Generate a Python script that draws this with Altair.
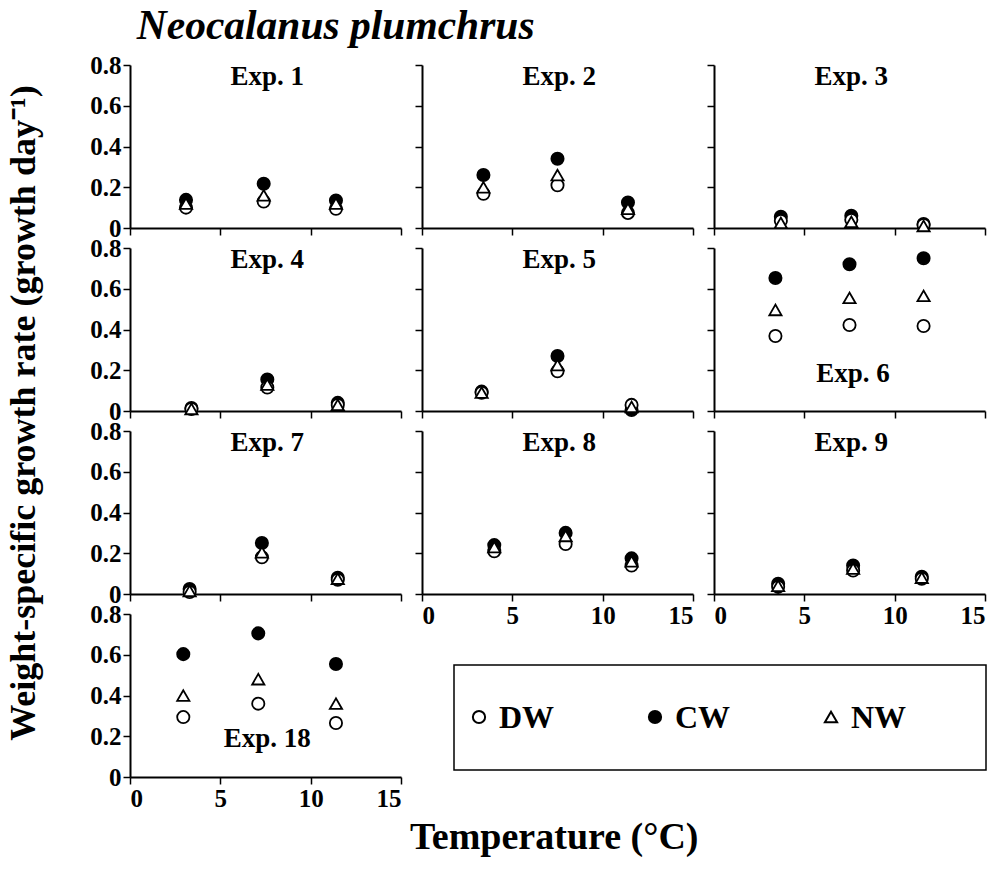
import altair as alt
import pandas as pd

# ---------------- data ----------------
exp_names = ["Exp. 1", "Exp. 2", "Exp. 3", "Exp. 4", "Exp. 5", "Exp. 6",
             "Exp. 7", "Exp. 8", "Exp. 9", "Exp. 18"]

temperature = [
    [3.1, 7.4, 11.4], [3.4, 7.5, 11.4], [3.7, 7.6, 11.6],
    [3.4, 7.6, 11.5], [3.3, 7.5, 11.6], [3.4, 7.5, 11.6],
    [3.3, 7.3, 11.5], [4.0, 7.95, 11.6], [3.55, 7.7, 11.5],
    [2.95, 7.1, 11.4],
]
dw = [
    [0.100, 0.130, 0.094], [0.168, 0.210, 0.074], [0.035, 0.040, 0.015],
    [0.010, 0.115, 0.030], [0.090, 0.195, 0.030], [0.368, 0.422, 0.417],
    [0.010, 0.180, 0.070], [0.210, 0.245, 0.140], [0.035, 0.115, 0.075],
    [0.294, 0.360, 0.265],
]
cw = [
    [0.138, 0.217, 0.135], [0.260, 0.340, 0.125], [0.055, 0.060, 0.020],
    [0.015, 0.155, 0.040], [0.095, 0.270, 0.005], [0.653, 0.720, 0.750],
    [0.025, 0.250, 0.080], [0.240, 0.300, 0.175], [0.050, 0.140, 0.085],
    [0.603, 0.705, 0.555],
]
nw = [
    [0.120, 0.160, 0.120], [0.200, 0.260, 0.094], [0.025, 0.030, 0.010],
    [0.010, 0.130, 0.030], [0.090, 0.225, 0.020], [0.496, 0.555, 0.565],
    [0.015, 0.205, 0.075], [0.230, 0.285, 0.160], [0.040, 0.125, 0.080],
    [0.400, 0.480, 0.360],
]
series_names = ["DW", "CW", "NW"]

# annotation anchor (in data units) for each "Exp." label
label_t = [7.6, 7.6, 7.6, 7.6, 7.6, 7.7, 7.6, 7.6, 7.6, 7.6]
label_v = [0.70, 0.70, 0.70, 0.70, 0.70, 0.14, 0.70, 0.70, 0.70, 0.145]

x_ticks = [0, 5, 10, 15]
y_ticks = [0, 0.2, 0.4, 0.6, 0.8]

# ---------------- style ----------------
FONT = "Liberation Serif"
W, H = 271, 163

shape_scale = alt.Scale(domain=series_names, range=["circle", "circle", "triangle-up"])
fill_scale = alt.Scale(domain=series_names, range=["white", "black", "white"])
size_scale = alt.Scale(domain=series_names, range=[150, 150, 175])


def panel(i, show_x, show_y):
    rows = []
    for s, vals in (("CW", cw[i]), ("DW", dw[i]), ("NW", nw[i])):
        for t, v in zip(temperature[i], vals):
            rows.append({"t": t, "v": v, "series": s})
    df = pd.DataFrame(rows)

    xax = alt.Axis(values=x_ticks, labels=show_x, title=None, labelFlush=True)
    yax = alt.Axis(values=y_ticks, labels=show_y, title=None, labelFlush=False,
                   labelExpr="datum.value == 0 ? '0' : format(datum.value, '.1f')")
    xenc = alt.X("t:Q", scale=alt.Scale(domain=[0, 15], nice=False, zero=False), axis=xax)
    yenc = alt.Y("v:Q", scale=alt.Scale(domain=[0, 0.8], nice=False), axis=yax)

    pts = alt.Chart(df).mark_point(filled=True, opacity=1, stroke="black",
                                   strokeWidth=1.8).encode(
        x=xenc, y=yenc,
        shape=alt.Shape("series:N", scale=shape_scale, legend=None),
        fill=alt.Fill("series:N", scale=fill_scale, legend=None),
        size=alt.Size("series:N", scale=size_scale, legend=None),
    )
    lab_df = pd.DataFrame({"t": [label_t[i]], "v": [label_v[i]], "lab": [exp_names[i]]})
    lab = alt.Chart(lab_df).mark_text(font=FONT, fontSize=27, fontWeight="bold",
                                      baseline="alphabetic", color="black").encode(
        x=alt.X("t:Q"), y=alt.Y("v:Q"), text="lab:N")
    return alt.layer(pts, lab).properties(width=W, height=H)


panels = [
    panel(0, False, True), panel(1, False, False), panel(2, False, False),
    panel(3, False, True), panel(4, False, False), panel(5, False, False),
    panel(6, False, True), panel(7, True, False), panel(8, True, False),
    panel(9, True, True),
]

# legend box (occupies the space of columns 2-3 in the last row)
leg_df = pd.DataFrame({"series": series_names})
leg_x = alt.X("series:N", sort=series_names,
              scale=alt.Scale(type="point", padding=0, range=[57, 409]), axis=None)
leg_box = alt.Chart(pd.DataFrame({"b": [0]})).mark_rect(
    fill=None, stroke="black", strokeWidth=1.5).encode(
    x=alt.value(32), x2=alt.value(564), y=alt.value(51), y2=alt.value(156))
leg_sym = alt.Chart(leg_df).mark_point(filled=True, opacity=1, stroke="black",
                                       strokeWidth=2).encode(
    x=leg_x, y=alt.value(103),
    shape=alt.Shape("series:N", scale=shape_scale, legend=None),
    fill=alt.Fill("series:N", scale=fill_scale, legend=None),
    size=alt.Size("series:N", scale=alt.Scale(domain=series_names, range=[200, 200, 220]),
                  legend=None),
)
leg_txt = alt.Chart(leg_df).mark_text(align="left", dx=20, font=FONT, fontSize=32,
                                      fontWeight="bold", color="black").encode(
    x=leg_x, y=alt.value(104), text="series:N")
legend_cell = alt.layer(leg_box, leg_sym, leg_txt).properties(width=W, height=H)

grid = alt.concat(*panels, legend_cell, columns=3, bounds="flush",
                  spacing=alt.RowColnumber(row=20, column=21)).properties(
    title=alt.TitleParams("Temperature (°C)", orient="bottom", anchor="middle",
                          font=FONT, fontSize=38, fontWeight="bold", color="black",
                          offset=8, dx=16))

mid = alt.vconcat(grid).properties(
    title=alt.TitleParams("Weight-specific growth rate (growth day\u207b\u00b9)",
                          orient="left", anchor="middle", font=FONT, fontSize=36,
                          fontWeight="bold", color="black", offset=47, dx=42))

chart = alt.vconcat(mid).properties(
    title=alt.TitleParams("Neocalanus plumchrus", anchor="start", font=FONT,
                          fontSize=41.5, fontWeight="bold", fontStyle="italic",
                          color="black", dx=131, offset=6),
    padding={"left": 5, "top": 5, "right": 5, "bottom": 5},
).configure_view(stroke=None).configure_axis(
    domainColor="black", domainWidth=2, tickColor="black", tickWidth=1.5,
    tickSize=7, labelFont=FONT, labelFontWeight="bold", labelFontSize=25,
    labelColor="black", labelPadding=2, grid=False,
)

chart.save("out.html", embed_options={"renderer": "svg", "actions": False})
